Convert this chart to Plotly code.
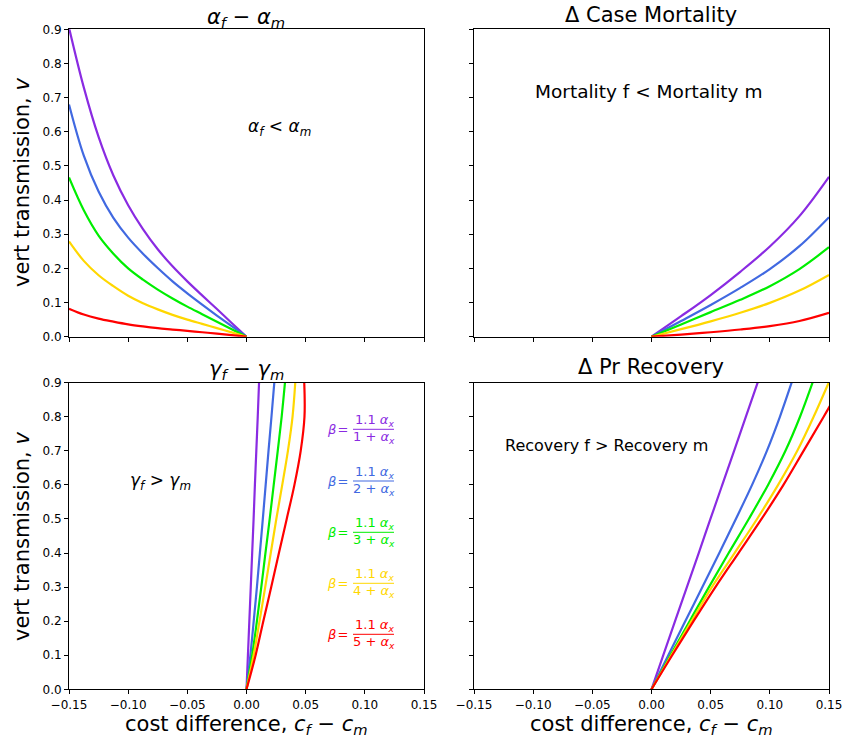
import plotly.graph_objects as go
from plotly.subplots import make_subplots

W, H = 847, 742
FONT = "DejaVu Sans"

# ---------------- data ----------------
colors = ["#8A2BE2", "#4169E1", "#00EE00", "#FFD700", "#FF0000"]
beta_denoms = [1, 2, 3, 4, 5]

x_ticks = [-0.15, -0.10, -0.05, 0.00, 0.05, 0.10, 0.15]
y_ticks = [0.0, 0.1, 0.2, 0.3, 0.4, 0.5, 0.6, 0.7, 0.8, 0.9]

# top-left: alpha_f - alpha_m  (v as function of cost difference)
tl_x = [-0.15, -0.1375, -0.125, -0.1125, -0.10, -0.0875, -0.075,
        -0.0625, -0.05, -0.0375, -0.025, -0.0125, 0.0]
tl_v = [
    [0.905, 0.73, 0.585, 0.472, 0.385, 0.315, 0.256, 0.206, 0.162, 0.121, 0.081, 0.04, 0.0],
    [0.68, 0.53, 0.425, 0.348, 0.29, 0.243, 0.201, 0.162, 0.127, 0.094, 0.062, 0.031, 0.0],
    [0.466, 0.37, 0.296, 0.243, 0.2, 0.167, 0.138, 0.112, 0.088, 0.066, 0.044, 0.022, 0.0],
    [0.279, 0.222, 0.18, 0.148, 0.12, 0.098, 0.08, 0.064, 0.05, 0.0375, 0.025, 0.0125, 0.0],
    [0.082, 0.065, 0.053, 0.044, 0.036, 0.03, 0.025, 0.021, 0.017, 0.013, 0.009, 0.0045, 0.0],
]

# top-right: delta case mortality
tr_x = [0.0, 0.025, 0.05, 0.075, 0.10, 0.125, 0.15]
tr_v = [
    [0.0, 0.06, 0.122, 0.19, 0.264, 0.353, 0.468],
    [0.0, 0.046, 0.093, 0.143, 0.198, 0.265, 0.35],
    [0.0, 0.036, 0.072, 0.108, 0.148, 0.198, 0.262],
    [0.0, 0.022, 0.045, 0.07, 0.099, 0.135, 0.181],
    [0.0, 0.006, 0.013, 0.021, 0.031, 0.046, 0.070],
]

# bottom rows: cost difference as function of v
b_v = [0.0, 0.1, 0.2, 0.3, 0.4, 0.5, 0.6, 0.7, 0.8, 0.9]
bl_x = [
    [0.0, 0.0012, 0.0024, 0.0036, 0.0048, 0.006, 0.0071, 0.0083, 0.0095, 0.0106],
    [0.0, 0.0033, 0.0061, 0.0088, 0.0113, 0.0138, 0.0162, 0.0186, 0.0211, 0.0235],
    [0.0, 0.0048, 0.0088, 0.0125, 0.016, 0.0196, 0.023, 0.0264, 0.0297, 0.0325],
    [0.0, 0.006, 0.011, 0.0158, 0.0205, 0.0252, 0.0302, 0.035, 0.0389, 0.0412],
    [0.0, 0.0077, 0.0142, 0.0209, 0.0274, 0.034, 0.0405, 0.0458, 0.049, 0.0488],
]
br_x = [
    [0.0, 0.00997, 0.0199, 0.0299, 0.0399, 0.0498, 0.0598, 0.0698, 0.0797, 0.0897],
    [0.0, 0.0142, 0.0285, 0.043, 0.0573, 0.0713, 0.085, 0.0975, 0.1085, 0.1184],
    [0.0, 0.016, 0.0322, 0.0485, 0.0652, 0.0822, 0.0985, 0.1132, 0.1255, 0.1361],
    [0.0, 0.0168, 0.0338, 0.051, 0.0702, 0.0892, 0.107, 0.1232, 0.137, 0.1497],
    [0.0, 0.0175, 0.0355, 0.054, 0.0735, 0.093, 0.1115, 0.1285, 0.1455, 0.162],
]

# ---------------- figure ----------------
fig = make_subplots(rows=2, cols=2)

LW = 2.2
line_kw = dict(width=LW, shape="spline", smoothing=1.0)
for i, c in enumerate(colors):
    fig.add_trace(go.Scatter(x=tl_x, y=tl_v[i], mode="lines",
                             line=dict(color=c, **line_kw)), row=1, col=1)
    fig.add_trace(go.Scatter(x=tr_x, y=tr_v[i], mode="lines",
                             line=dict(color=c, **line_kw)), row=1, col=2)
    fig.add_trace(go.Scatter(x=bl_x[i], y=b_v, mode="lines",
                             line=dict(color=c, **line_kw)), row=2, col=1)
    fig.add_trace(go.Scatter(x=br_x[i], y=b_v, mode="lines",
                             line=dict(color=c, **line_kw)), row=2, col=2)


def px(x):
    return x / W


def py(y):
    return 1 - y / H


xdom_l = [px(69), px(424)]
xdom_r = [px(474), px(829)]
ydom_t = [py(336.7), py(29.3)]
ydom_b = [py(689.3), py(382.7)]

axis_common = dict(showline=True, mirror=True, linecolor="black", linewidth=1,
                   ticks="outside", ticklen=4, tickwidth=1, tickcolor="black",
                   showgrid=False, zeroline=False, automargin=False,
                   tickfont=dict(family=FONT, size=12, color="black"))

for r in (1, 2):
    for cc in (1, 2):
        fig.update_xaxes(range=[-0.15, 0.15], tickvals=x_ticks, tickformat=".2f",
                         domain=xdom_l if cc == 1 else xdom_r,
                         showticklabels=(r == 2), row=r, col=cc, **axis_common)
        fig.update_yaxes(range=[0, 0.9], tickvals=y_ticks, tickformat=".1f",
                         domain=ydom_t if r == 1 else ydom_b,
                         showticklabels=(cc == 1), row=r, col=cc, **axis_common)

ann = []


def A(text, x, y, size, color="black", angle=0, xanchor="center"):
    ann.append(dict(text=text, x=x, y=y, xref="paper", yref="paper", showarrow=False,
                    textangle=angle, xanchor=xanchor, yanchor="middle",
                    font=dict(family=FONT, size=size, color=color)))


# titles
A("<i>α</i><sub><i>f</i></sub> − <i>α</i><sub><i>m</i></sub>", px(246), py(18), 21)
A("Δ Case Mortality", px(651), py(15), 21)
A("<i>γ</i><sub><i>f</i></sub> − <i>γ</i><sub><i>m</i></sub>", px(246), py(370), 21)
A("Δ Pr Recovery", px(651), py(367), 21)

# axis labels
A("vert transmission, <i>v</i>", px(22), py(183), 21, angle=-90)
A("vert transmission, <i>v</i>", px(22), py(537), 21, angle=-90)
A("cost difference, <i>c</i><sub><i>f</i></sub> − <i>c</i><sub><i>m</i></sub>", px(246), py(725), 21)
A("cost difference, <i>c</i><sub><i>f</i></sub> − <i>c</i><sub><i>m</i></sub>", px(651), py(725), 21)

# in-plot annotations
A("<i>α</i><sub><i>f</i></sub> &lt; <i>α</i><sub><i>m</i></sub>", px(279), py(127), 17)
A("Mortality f &lt; Mortality m", px(648), py(92), 18.5)
A("<i>γ</i><sub><i>f</i></sub> &gt; <i>γ</i><sub><i>m</i></sub>", px(160), py(481), 17)
A("Recovery f &gt; Recovery m", px(606), py(445), 16)

# beta legend fractions
shapes = []
bar_y = [429.3, 481, 532.3, 583.3, 634.3]
for i, c in enumerate(colors):
    yb = bar_y[i]
    A("<i>β</i>\u200a=", px(350), py(yb), 13, color=c, xanchor="right")
    A("1.1 <i>α</i><sub><i>x</i></sub>", px(374), py(yb - 8.5), 13, color=c)
    A(f"{beta_denoms[i]} + <i>α</i><sub><i>x</i></sub>", px(374), py(yb + 8.5), 13, color=c)
    shapes.append(dict(type="line", xref="paper", yref="paper",
                       x0=px(353), x1=px(394), y0=py(yb), y1=py(yb),
                       line=dict(color=c, width=1)))

fig.update_layout(width=W, height=H, margin=dict(l=0, r=0, t=0, b=0),
                  plot_bgcolor="white", paper_bgcolor="white", showlegend=False,
                  annotations=ann, shapes=shapes,
                  font=dict(family=FONT, color="black"))

fig.write_html("out.html")
